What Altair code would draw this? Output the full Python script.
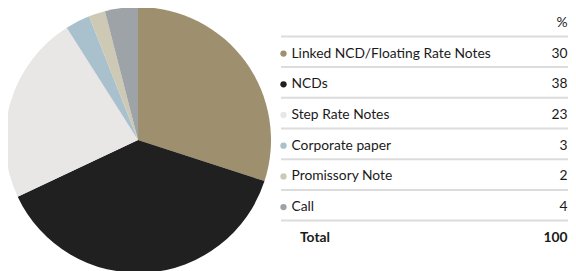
import altair as alt
import pandas as pd

categories = ["Linked NCD/Floating Rate Notes", "NCDs", "Step Rate Notes",
              "Corporate paper", "Promissory Note", "Call"]
values = [30, 38, 23, 3, 2, 4]
colors = ["#9e8f6e", "#202020", "#e8e7e6", "#a8c1cd", "#cec9b5", "#9da3a7"]
total_label = "Total"
total_value = 100
header = "%"

W, H = 560, 265
FONT = "Lato"
FS = 13.8
TXT = "#1a1a1a"
RIGHT = 559.5

pie_df = pd.DataFrame({"category": categories, "value": values, "order": range(len(values))})

rows = pd.DataFrame({
    "row": list(range(len(categories))),
    "label": categories,
    "value": [str(v) for v in values],
    "category": categories,
})
total_df = pd.DataFrame({"row": [len(categories)], "label": [total_label], "value": [str(total_value)]})
header_df = pd.DataFrame({"row": [-1], "value": [header]})
lines_df = pd.DataFrame({"row": [i - 0.56 for i in range(len(categories) + 1)]})

yscale = alt.Scale(domain=[0, 6], range=[45.6, 229.8])
color_scale = alt.Scale(domain=categories, range=colors)

pie = alt.Chart(pie_df).mark_arc(outerRadius=133, stroke=None).encode(
    theta=alt.Theta("value:Q", stack=True),
    color=alt.Color("category:N", scale=color_scale, legend=None),
    order=alt.Order("order:Q"),
    x=alt.value(130),
    y=alt.value(132),
)

ypos = alt.Y("row:Q", scale=yscale, axis=None)

lines = alt.Chart(lines_df).mark_rule(color="#dcdcdc", strokeWidth=2).encode(
    y=ypos, x=alt.value(273), x2=alt.value(560)
)

dots = alt.Chart(rows).mark_circle(size=40, opacity=1).encode(
    y=ypos, x=alt.value(275.5),
    color=alt.Color("category:N", scale=color_scale, legend=None),
)

labels = alt.Chart(rows).mark_text(align="left", baseline="middle", font=FONT,
                                    fontSize=FS, color=TXT).encode(
    y=ypos, x=alt.value(283.5), text="label:N"
)
vals = alt.Chart(rows).mark_text(align="right", baseline="middle", font=FONT,
                                  fontSize=FS, color=TXT).encode(
    y=ypos, x=alt.value(RIGHT), text="value:N"
)
tot_l = alt.Chart(total_df).mark_text(align="left", baseline="middle", font=FONT,
                                       fontSize=FS, fontWeight="bold", color=TXT).encode(
    y=ypos, x=alt.value(292), text="label:N"
)
tot_v = alt.Chart(total_df).mark_text(align="right", baseline="middle", font=FONT,
                                       fontSize=FS, fontWeight="bold", color=TXT).encode(
    y=ypos, x=alt.value(RIGHT), text="value:N"
)
hdr = alt.Chart(header_df).mark_text(align="right", baseline="middle", font=FONT,
                                      fontSize=FS, color=TXT).encode(
    y=ypos, x=alt.value(RIGHT), text="value:N"
)

chart = alt.layer(pie, lines, dots, labels, vals, tot_l, tot_v, hdr).properties(
    width=W, height=H, autosize=alt.AutoSizeParams(type="none"), padding=0
).configure_view(stroke=None)

chart.save("out.html", embed_options={"renderer": "svg", "actions": False})
